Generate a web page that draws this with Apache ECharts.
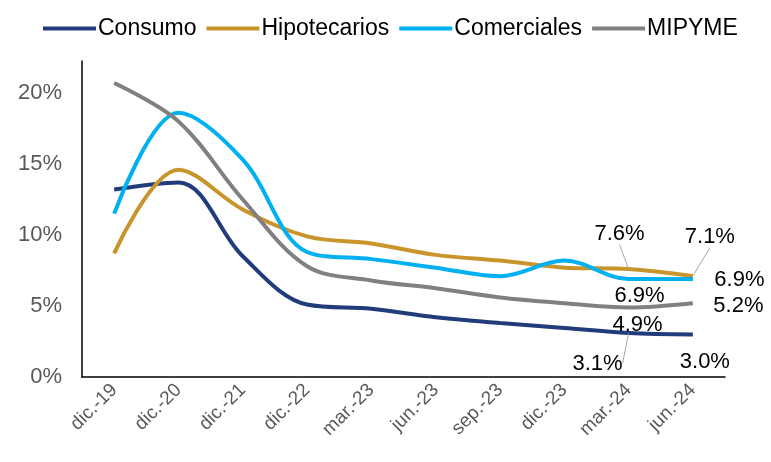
<!DOCTYPE html>
<html>
<head>
<meta charset="utf-8">
<script src="https://cdn.jsdelivr.net/npm/echarts@6/dist/echarts.min.js"></script>
<style>
  html, body { margin: 0; padding: 0; background: #fff; }
  #chart { width: 771px; height: 462px; }
</style>
</head>
<body>
<div id="chart"></div>
<script>
// categorías del eje x
var categorias = ["dic.-19", "dic.-20", "dic.-21", "dic.-22", "mar.-23", "jun.-23", "sep.-23", "dic.-23", "mar.-24", "jun.-24"];
// series (%)
var consumo      = [13.2, 13.7, 8.5, 5.1, 4.8, 4.2, 3.8, 3.45, 3.1, 3.0];
var hipotecarios = [8.7, 14.6, 11.8, 9.9, 9.4, 8.6, 8.2, 7.7, 7.6, 7.1];
var comerciales  = [11.5, 18.6, 15.3, 8.8, 8.3, 7.7, 7.1, 8.2, 6.9, 6.9];
var mipyme       = [20.7, 18.0, 12.5, 7.8, 6.8, 6.25, 5.6, 5.2, 4.9, 5.2];
var ticksY = [0, 5, 10, 15, 20];

var chart = echarts.init(document.getElementById("chart"));

var fuente = "Liberation Sans, Arial";
var txt = { fontFamily: fuente, fontSize: 22, color: "#000" };

// etiquetas solo en los dos últimos puntos
function conEtiquetas(datos, ultimas) {
  return datos.map(function (v, i) {
    var conf = ultimas[i - (datos.length - 2)];
    if (!conf) return v;
    return {
      value: v,
      symbol: "circle",
      symbolSize: 1,
      itemStyle: { color: "rgba(0,0,0,0)" },
      label: Object.assign({ show: true, formatter: v.toFixed(1) + "%" }, txt, conf.label),
      labelLine: { show: !!conf.line, lineStyle: { color: "#a6a6a6", width: 1 } }
    };
  });
}

function serie(nombre, datos, color, ultimas) {
  var n = datos.length;
  return {
    name: nombre,
    type: "line",
    smooth: 0.35,
    symbol: "none",
    showSymbol: true,
    data: conEtiquetas(datos, ultimas),
    lineStyle: { color: color, width: 4 },
    itemStyle: { color: color },
    labelLayout: function (p) {
      var conf = ultimas[p.dataIndex - (n - 2)];
      if (!conf) return {};
      return { dx: conf.dx || 0, dy: conf.dy || 0 };
    }
  };
}

chart.setOption({
  animation: false,
  legend: {
    top: 12,
    left: 38,
    itemWidth: 53,
    itemHeight: 4,
    itemGap: 10,
    icon: "rect",
    textStyle: { fontFamily: fuente, fontSize: 23, color: "#000", padding: [0, 0, 0, -3] },
    data: ["Consumo", "Hipotecarios", "Comerciales", "MIPYME"]
  },
  grid: { left: 82, right: 46, top: 61, bottom: 85 },
  xAxis: {
    type: "category",
    data: categorias,
    axisLine: { lineStyle: { color: "#000", width: 1.5 } },
    axisTick: { show: false },
    axisLabel: { rotate: 45, fontFamily: fuente, fontSize: 19, color: "#595959", margin: 10, interval: 0 }
  },
  yAxis: {
    type: "value",
    min: 0,
    max: 22.25,
    interval: 5,
    splitLine: { show: false },
    axisLine: { show: true, lineStyle: { color: "#000", width: 1.5 } },
    axisTick: { show: false },
    axisLabel: {
      fontFamily: fuente, fontSize: 22, color: "#595959", margin: 20,
      formatter: function (v) { return ticksY.indexOf(v) >= 0 ? v + "%" : ""; }
    }
  },
  series: [
    serie("Consumo", consumo, "#203C7A", [
      { label: { position: "bottom" }, dx: -31, dy: 14, line: true },
      { label: { position: "bottom" }, dx: 12, dy: 11 }
    ]),
    serie("Hipotecarios", hipotecarios, "#C8942C", [
      { label: { position: "top" }, dx: -9, dy: -19, line: true },
      { label: { position: "top" }, dx: 17, dy: -23, line: true }
    ]),
    serie("Comerciales", comerciales, "#00B0F0", [
      { label: { position: "bottom" }, dx: 11, dy: 0 },
      { label: { position: "right" }, dx: 16, dy: 1 }
    ]),
    serie("MIPYME", mipyme, "#808080", [
      { label: { position: "bottom" }, dx: 9, dy: 1 },
      { label: { position: "right" }, dx: 15, dy: 3 }
    ])
  ]
});
</script>
</body>
</html>
